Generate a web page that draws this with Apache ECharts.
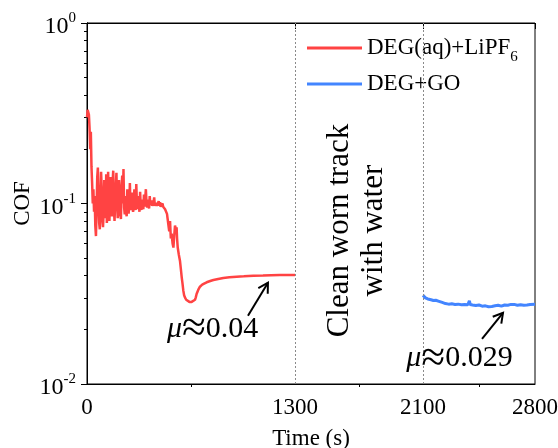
<!DOCTYPE html>
<html>
<head>
<meta charset="utf-8">
<script src="https://cdn.jsdelivr.net/npm/echarts@6/dist/echarts.min.js"></script>
<style>
  html, body { margin: 0; padding: 0; background: #fff; }
  #chart { width: 558px; height: 448px; }
</style>
</head>
<body>
<div id="chart"></div>
<script>
// Friction test: COF vs. sliding time for two lubricants
const redName = 'DEG(aq)+LiPF6';
const blueName = 'DEG+GO';

const redTime = [
  0, 4, 8, 12, 16, 20, 24, 28, 32, 36, 40, 44, 48, 52,
  56, 60, 64, 68, 72, 76, 80, 84, 88, 92, 96, 100, 104, 108, 112, 116, 120, 124, 128, 132,
  136, 140, 144, 148, 152, 156, 160, 164, 168, 172, 176, 180, 184, 188, 192, 196, 200, 204, 208, 212,
  216, 220, 224, 228, 232, 236, 240, 244, 248, 252, 256, 260, 264, 268, 272, 276, 280, 284, 288, 292,
  296, 300, 304, 308, 312, 316, 320, 324, 328, 332, 336, 340, 344, 348, 352, 356, 360, 364, 368, 372,
  376, 380, 384, 388, 392, 396, 400, 404, 408, 412, 416, 420, 424, 428, 432, 436, 440, 444, 448, 452,
  456, 460, 464, 468, 472, 476, 480, 484, 488, 492, 496, 500,
  508, 514, 519, 524, 529, 535, 540, 545, 550, 556, 560, 563, 567,
  574, 581, 587, 592, 597, 602, 607, 612, 620, 627, 640, 654, 665, 675, 680, 685, 695, 706, 720, 735,
  748, 770, 790, 820, 852, 890, 935, 980, 1040, 1100, 1150, 1206, 1260, 1300
];
const redCOF = [
  0.30, 0.33, 0.336, 0.31, 0.26, 0.20, 0.25, 0.16, 0.13, 0.10, 0.12, 0.09, 0.11, 0.075,
  0.066, 0.095, 0.14, 0.158, 0.10, 0.078, 0.072, 0.11, 0.15, 0.12, 0.08, 0.074, 0.09, 0.135, 0.10, 0.083, 0.145, 0.078, 0.09, 0.15,
  0.105, 0.08, 0.11, 0.14, 0.09, 0.085, 0.13, 0.152, 0.095, 0.08, 0.10, 0.125, 0.148, 0.10, 0.083, 0.09, 0.135, 0.115, 0.088, 0.082,
  0.12, 0.143, 0.10, 0.155, 0.095, 0.087, 0.11, 0.09, 0.085, 0.12, 0.105, 0.088, 0.097, 0.13, 0.092, 0.09, 0.115, 0.098, 0.09, 0.096,
  0.12, 0.095, 0.092, 0.128, 0.10, 0.093, 0.11, 0.097, 0.09, 0.116, 0.095, 0.092, 0.105, 0.097, 0.093, 0.112, 0.096, 0.094, 0.12, 0.10,
  0.095, 0.105, 0.097, 0.094, 0.11, 0.098, 0.096, 0.104, 0.097, 0.095, 0.102, 0.108, 0.097, 0.096, 0.101, 0.097, 0.095, 0.098, 0.103, 0.097,
  0.1016, 0.096, 0.098, 0.097, 0.10, 0.096, 0.0975, 0.095, 0.093, 0.095, 0.092, 0.0876,
  0.077, 0.070, 0.080, 0.064, 0.068, 0.060, 0.057, 0.066, 0.0755, 0.072, 0.0739, 0.064, 0.057,
  0.052, 0.0482, 0.043, 0.039, 0.036, 0.0329, 0.031, 0.0302, 0.0293, 0.0289, 0.0285, 0.0285, 0.0287, 0.0293, 0.0302, 0.0315, 0.0332, 0.0346, 0.0355, 0.0361,
  0.0366, 0.0372, 0.0377, 0.0382, 0.0387, 0.0390, 0.0393, 0.0395, 0.0398, 0.0399, 0.0401, 0.0402, 0.0402, 0.0402
];

const blueTime = [
  2100, 2115, 2130, 2150, 2165, 2180, 2200, 2220, 2240, 2260, 2280, 2300, 2320, 2340, 2360, 2380, 2390, 2395, 2410, 2430,
  2450, 2470, 2490, 2510, 2520, 2530, 2550, 2570, 2590, 2610, 2630, 2650, 2660, 2670, 2690, 2710, 2730, 2750, 2770, 2800
];
const blueCOF = [
  0.0310, 0.0300, 0.0296, 0.0293, 0.0290, 0.0291, 0.0287, 0.0283, 0.0279, 0.0277, 0.0278, 0.0276, 0.0277, 0.0275, 0.0276, 0.0275, 0.0289, 0.0276, 0.0274, 0.0272,
  0.0274, 0.0270, 0.0271, 0.0268, 0.0272, 0.0269, 0.0271, 0.0273, 0.0270, 0.0274, 0.0273, 0.0276, 0.0281, 0.0276, 0.0273, 0.0275, 0.0273, 0.0274, 0.0276, 0.0277
];

const xMajorTicks = [0, 1300, 2100, 2800];
const xMinorTicks = [650, 1700, 2450];
const yMinorTicks = [0.02, 0.03, 0.04, 0.05, 0.06, 0.07, 0.08, 0.09, 0.2, 0.3, 0.4, 0.5, 0.6, 0.7, 0.8, 0.9];
const dividerTimes = [1300, 2100];

const FONT = '"Liberation Serif", "Times New Roman", serif';
const RED = '#ff4343';
const BLUE = '#4385ff';

const pairs = (xs, ys) => xs.map((x, i) => [x, ys[i]]);

const chart = echarts.init(document.getElementById('chart'), null, { renderer: 'canvas' });

const blackLine = { color: '#000', width: 1 };

const option = {
  animation: false,
  backgroundColor: '#fff',
  grid: {
    left: 87, right: 23, top: 23, bottom: 64,
    outerBoundsMode: 'none', containLabel: false,
    show: true, borderColor: '#000', borderWidth: 1, backgroundColor: 'transparent'
  },
  legend: {
    orient: 'vertical',
    left: 302,
    top: 31,
    itemWidth: 55,
    itemHeight: 3,
    itemGap: 7,
    icon: 'rect',
    data: [redName, blueName],
    formatter: name => name === redName ? '{b|DEG(aq)+LiPF}{sub|6}' : '{b|' + name + '}',
    textStyle: {
      color: '#000',
      fontFamily: FONT,
      fontSize: 23,
      rich: {
        b: { fontFamily: FONT, fontSize: 23, color: '#000', lineHeight: 24, verticalAlign: 'top' },
        sub: { fontFamily: FONT, fontSize: 15, color: '#000', lineHeight: 15, padding: [14, 0, 0, 0], verticalAlign: 'top' }
      }
    }
  },
  xAxis: [
    {
      type: 'value', min: 0, max: 2800,
      name: 'Time (s)', nameLocation: 'middle', nameGap: 43,
      nameTextStyle: { fontFamily: FONT, fontSize: 23, color: '#000' },
      axisLine: { show: true, lineStyle: blackLine },
      axisTick: { show: true, inside: false, length: 6, customValues: xMajorTicks, lineStyle: blackLine },
      axisLabel: { customValues: xMajorTicks, formatter: v => String(v), color: '#000', fontFamily: FONT, fontSize: 23, margin: 12 },
      splitLine: { show: false }
    },
    {
      type: 'value', min: 0, max: 2800, position: 'bottom', offset: 0,
      axisLine: { show: true, lineStyle: blackLine },
      axisTick: { show: true, inside: false, length: 3, customValues: xMinorTicks, lineStyle: blackLine },
      axisLabel: { show: false, customValues: xMinorTicks },
      splitLine: { show: false }
    }
  ],
  yAxis: [
    {
      type: 'log', logBase: 10, min: 0.01, max: 1,
      name: 'COF', nameLocation: 'middle', nameGap: 53, nameMoveOverlap: false,
      nameTextStyle: { fontFamily: FONT, fontSize: 23, color: '#000' },
      axisLine: { show: true, lineStyle: blackLine },
      axisTick: { show: true, inside: false, length: 6, lineStyle: blackLine },
      axisLabel: {
        margin: 11,
        formatter: v => '{b|10}{s|' + Math.round(Math.log10(v)) + '}',
        rich: {
          b: { fontFamily: FONT, fontSize: 24, color: '#000', lineHeight: 24, verticalAlign: 'top', padding: [4, 0, 0, 0] },
          s: { fontFamily: FONT, fontSize: 15, color: '#000', lineHeight: 15, verticalAlign: 'top' }
        }
      },
      splitLine: { show: false },
      minorTick: { show: false }
    },
    {
      type: 'value', min: -2, max: 0, position: 'left', offset: 0,
      axisLine: { show: true, lineStyle: blackLine },
      axisTick: { show: true, inside: false, length: 3, customValues: yMinorTicks.map(v => Math.log10(v)), lineStyle: blackLine },
      axisLabel: { show: false, customValues: yMinorTicks.map(v => Math.log10(v)) },
      splitLine: { show: false }
    }
  ],
  series: [
    {
      name: redName, type: 'line', xAxisIndex: 0, yAxisIndex: 0,
      data: pairs(redTime, redCOF),
      showSymbol: false, symbol: 'none',
      color: RED,
      lineStyle: { color: RED, width: 2.5 },
      z: 3,
      markLine: {
        silent: true, symbol: 'none', label: { show: false },
        lineStyle: { type: [2, 2], color: '#8a8a8a', width: 1 },
        data: dividerTimes.map(t => ({ xAxis: t }))
      }
    },
    {
      name: blueName, type: 'line', xAxisIndex: 0, yAxisIndex: 0,
      data: pairs(blueTime, blueCOF),
      showSymbol: false, symbol: 'none',
      color: BLUE,
      lineStyle: { color: BLUE, width: 3 },
      z: 3
    }
  ]
};

chart.setOption(option);

// Annotations placed in data space, converted to pixels
const px = (t, v) => chart.convertToPixel({ seriesIndex: 0 }, [t, v]);

function arrow(from, to) {
  const a = px(from[0], from[1]);
  const b = px(to[0], to[1]);
  const ang = Math.atan2(b[1] - a[1], b[0] - a[0]);
  const L = 11, spread = Math.PI / 6;
  const h1 = [b[0] - L * Math.cos(ang - spread), b[1] - L * Math.sin(ang - spread)];
  const h2 = [b[0] - L * Math.cos(ang + spread), b[1] - L * Math.sin(ang + spread)];
  const st = { stroke: '#000', lineWidth: 2, fill: null };
  return [
    { type: 'polyline', shape: { points: [a, b] }, style: st, z: 10 },
    { type: 'polyline', shape: { points: [h1, b, h2] }, style: st, z: 10 }
  ];
}

function label(t, v, text, size, rotation) {
  const p = px(t, v);
  return {
    type: 'text', x: p[0], y: p[1], rotation: rotation || 0, z: 10,
    style: {
      text: text, fill: '#000', font: size + 'px ' + FONT,
      align: 'center', verticalAlign: 'middle', lineHeight: size + 3,
      rich: {
        i: { fontStyle: 'italic', fontFamily: FONT, fontSize: size, fill: '#000', lineHeight: size + 12, verticalAlign: 'middle' },
        n: { fontFamily: FONT, fontSize: size, fill: '#000', lineHeight: size + 12, verticalAlign: 'middle' },
        a: { fontFamily: FONT, fontSize: size * 1.45, fill: '#000', lineHeight: size + 12, verticalAlign: 'middle', padding: [2, 0, 0, 0] }
      }
    }
  };
}

chart.setOption({
  graphic: [
    ...arrow([1006, 0.0239], [1131, 0.0364]),
    ...arrow([2469, 0.0178], [2600, 0.0248]),
    label(785, 0.0202, '{i|μ}{a|≈}{n|0.04}', 30),
    label(2328, 0.0139, '{i|μ}{a|≈}{n|0.029}', 30),
    label(1688, 0.0708, 'Clean worn track\nwith water', 31, Math.PI / 2)
  ]
});
</script>
</body>
</html>
